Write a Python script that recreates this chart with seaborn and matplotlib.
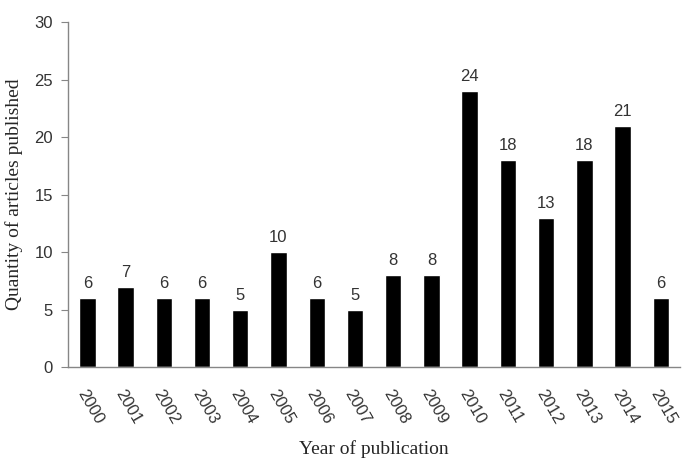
import numpy as np
import pandas as pd
import matplotlib
matplotlib.use("Agg")
import matplotlib.pyplot as plt
import seaborn as sns

# 数据
years = [str(y) for y in range(2000, 2016)]
counts = [6, 7, 6, 6, 5, 10, 6, 5, 8, 8, 24, 18, 13, 18, 21, 6]

df = pd.DataFrame({"year": years, "count": counts})

sns.set_style("white")
plt.rcParams['font.family'] = ['Liberation Sans', 'DejaVu Sans']

fig = plt.figure(figsize=(6.82, 4.59), dpi=100)
ax = fig.add_axes([0.1, 0.2, 0.897, 0.752])

sns.barplot(data=df, x="year", y="count", color="black", width=0.43,
            saturation=1, ax=ax)

# 柱子上方数值
for i, v in enumerate(counts):
    ax.text(i, v + 0.6, str(v), ha="center", va="bottom", fontsize=12, color="#333333")

ax.set_ylim(0, 30)
ax.set_yticks(range(0, 31, 5))
ax.set_xlim(-0.5, len(years) - 0.5)

# 边框
for s in ["top", "right"]:
    ax.spines[s].set_visible(False)
for s in ["left", "bottom"]:
    ax.spines[s].set_color("#868686")
    ax.spines[s].set_linewidth(1)

# 刻度：x 轴刻度线在类别之间
ax.set_xticks(np.arange(-0.5, len(years), 1), minor=True)
ax.tick_params(axis="x", which="major", length=0, pad=14, labelsize=12, labelcolor="#333333")
ax.tick_params(axis="x", which="minor", length=5, color="#868686", direction="out")
ax.tick_params(axis="y", length=5, color="#868686", direction="out", left=True,
               pad=6, labelsize=12, labelcolor="#333333")
plt.setp(ax.get_xticklabels(), rotation=-60, ha="left", rotation_mode="anchor")

ax.set_ylabel("Quantity of articles published", family="Liberation Serif", fontsize=14, labelpad=8)
ax.set_xlabel("Year of publication", family="Liberation Serif", fontsize=14, labelpad=10)

fig.savefig("out.png", dpi=100)
